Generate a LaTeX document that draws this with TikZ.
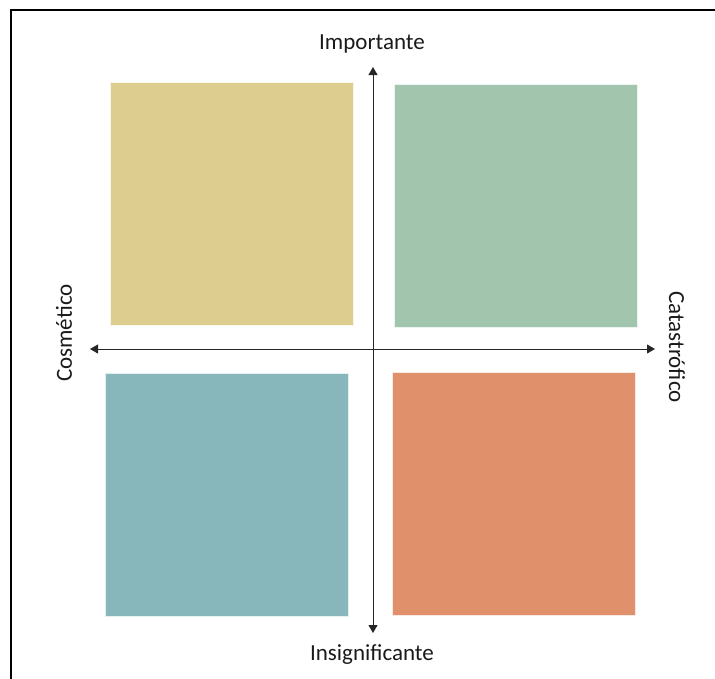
\documentclass[tikz,border=0pt]{standalone}
\usepackage{fontspec}
\setmainfont{Carlito}
\usetikzlibrary{arrows.meta}
\definecolor{cyellow}{HTML}{DDCD8F}
\definecolor{cgreen}{HTML}{A1C6AD}
\definecolor{cteal}{HTML}{87B6BB}
\definecolor{corange}{HTML}{E0916C}
\definecolor{ctext}{HTML}{1A1A1A}
\tikzset{
  quad/.style={draw=white!80!#1, line width=0.8pt, fill=#1, minimum width=243pt, minimum height=243pt, inner sep=0pt, outer sep=0pt},
  axis/.style={draw=black!85, line width=0.9pt, -{Triangle[length=8pt,width=9pt]}},
  lbl/.style={text=ctext, font=\fontsize{23}{27}\selectfont, inner sep=0pt}
}
\begin{document}
\begin{tikzpicture}[x=1pt,y=-1pt]
\useasboundingbox (0,0) rectangle (715,678);
\draw[line width=2.2pt, line cap=butt] (11,679) -- (11,10) -- (716,10);
\node[quad=cyellow] (q1) at (232,204) {};
\node[quad=cgreen] (q2) at (515.5,205.5) {};
\node[quad=cteal] (q3) at (226.5,495) {};
\node[quad=corange] (q4) at (513.5,493.5) {};
\coordinate (c) at (373,349);
\coordinate (top) at (373,67);
\coordinate (bot) at (373,633);
\coordinate (left) at (90,349);
\coordinate (right) at (655,349);
\draw[axis] (c) -- (top);
\draw[axis] (c) -- (bot);
\draw[axis] (c) -- (left);
\draw[axis] (c) -- (right);
\node[lbl] (limp) at (372,44) {Importante};
\node[lbl] (lins) at (372,655) {Insignificante};
\node[lbl, rotate=90] (lcos) at (64,333) {Cosmético};
\node[lbl, rotate=-90] (lcat) at (677,347) {Catastrófico};
\end{tikzpicture}
\end{document}
